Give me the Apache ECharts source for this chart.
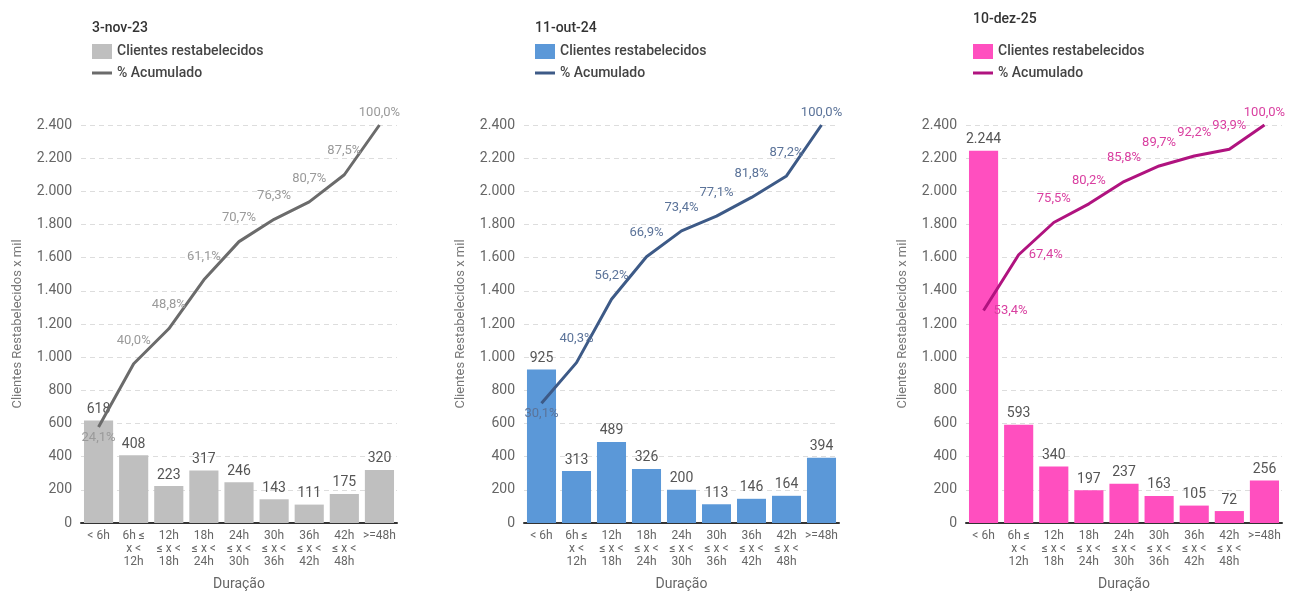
<!DOCTYPE html>
<html><head><meta charset="utf-8">
<script src="https://cdn.jsdelivr.net/npm/echarts@6/dist/echarts.min.js"></script>
<style>
html,body{margin:0;padding:0;background:#fff;}
#wrap{position:relative;width:1293px;height:593px;}
.p{position:absolute;top:0;height:593px;}
</style></head>
<body><div id="wrap">
<div id="c1" class="p" style="left:0;width:431px"></div>
<div id="c2" class="p" style="left:431px;width:431px"></div>
<div id="c3" class="p" style="left:862px;width:431px"></div>
</div>
<script>
const categories = ['< 6h','6h ≤\nx <\n12h','12h\n≤ x <\n18h','18h\n≤ x <\n24h','24h\n≤ x <\n30h','30h\n≤ x <\n36h','36h\n≤ x <\n42h','42h\n≤ x <\n48h','>=48h'];
const yTicks = [0,200,400,600,800,1000,1200,1400,1600,1800,2000,2200,2400];

const titles = ['3-nov-23','11-out-24','10-dez-25'];

const bars2023 = [618,408,223,317,246,143,111,175,320];
const pct2023  = [24.1,40.0,48.8,61.1,70.7,76.3,80.7,87.5,100.0];

const bars2024 = [925,313,489,326,200,113,146,164,394];
const pct2024  = [30.1,40.3,56.2,66.9,73.4,77.1,81.8,87.2,100.0];

const bars2025 = [2244,593,340,197,237,163,105,72,256];
const pct2025  = [53.4,67.4,75.5,80.2,85.8,89.7,92.2,93.9,100.0];

const FONT = 'Roboto, "Noto Sans", sans-serif';
const fmtThousands = v => String(v).replace(/\B(?=(\d{3})+(?!\d))/g,'.');
const fmtPct = v => v.toFixed(1).replace('.',',') + '%';

const panels = [
  {el:'c1', title:titles[0], bars:bars2023, pct:pct2023, barColor:'#BFBFBF', lineColor:'#6B6B6B', pctColor:'#9A9A9A',
   gridLeft:81, gridRight:34, titleLeft:87, titleTop:16, labelPos:['bottom','top','top','top','top','top','top','top','top']},
  {el:'c2', title:titles[1], bars:bars2024, pct:pct2024, barColor:'#5B98D8', lineColor:'#3D5A87', pctColor:'#5B7399',
   gridLeft:93, gridRight:23, titleLeft:99, titleTop:16, labelPos:['bottom','top','top','top','top','top','top','top','top']},
  {el:'c3', title:titles[2], bars:bars2025, pct:pct2025, barColor:'#FF4FBF', lineColor:'#B0137F', pctColor:'#D93FA0',
   gridLeft:104, gridRight:11, titleLeft:106, titleTop:7, labelPos:['right','right','top','top','top','top','top','top','top']}
];

panels.forEach(p => {
  const chart = echarts.init(document.getElementById(p.el), null, {renderer:'canvas'});
  const lineData = p.pct.map((v,i) => {
    const pos = p.labelPos[i];
    const last = i === p.pct.length - 1;
    return {value:v, label:{position:pos, distance: pos==='top'?(last?6:17):(pos==='right'?10:4), offset: pos==='top'?[-5,0]:[0,0]}};
  });
  chart.setOption({
    animation:false,
    textStyle:{fontFamily:FONT},
    title:{text:p.title, left:p.titleLeft, top:p.titleTop, textStyle:{fontFamily:FONT, fontSize:14, fontWeight:500, color:'#333'}},
    legend:{
      orient:'vertical', left:p.titleLeft, top:39, itemGap:7, itemWidth:20, itemHeight:15,
      textStyle:{fontFamily:FONT, fontSize:14, color:'#444', fontWeight:500},
      data:[
        {name:'Clientes restabelecidos', icon:'rect'},
        {name:'% Acumulado', icon:'path://M0,0h20v3h-20z'}
      ],
      selectedMode:false
    },
    grid:{left:p.gridLeft, right:p.gridRight, top:125, bottom:70, containLabel:false, outerBoundsMode:'none'},
    xAxis:{
      type:'category', data:categories,
      axisLine:{lineStyle:{color:'#333', width:2}},
      axisTick:{show:false},
      axisLabel:{interval:0, fontSize:12, color:'#666', lineHeight:13, margin:6, fontFamily:FONT},
      name:'Duração', nameLocation:'middle', nameGap:54,
      nameTextStyle:{fontSize:14, color:'#666', fontFamily:FONT}
    },
    yAxis:[{
      type:'value', min:0, max:2400, interval:200,
      axisLine:{show:false}, axisTick:{show:false},
      axisLabel:{fontSize:14, color:'#666', margin:9, formatter:fmtThousands, fontFamily:FONT},
      splitLine:{lineStyle:{color:'#DDDDDD', type:[5,4], width:1}},
      name:'Clientes Restabelecidos x mil', nameLocation:'middle', nameGap:57, nameRotate:90,
      nameTextStyle:{fontSize:13, color:'#777', fontFamily:FONT}
    },{
      type:'value', min:0, max:100, show:false
    }],
    series:[{
      name:'Clientes restabelecidos', type:'bar', data:p.bars, barCategoryGap:'17%',
      itemStyle:{color:p.barColor},
      label:{show:true, position:'top', fontSize:14, color:'#555', distance:4, formatter:o=>fmtThousands(o.value), fontFamily:FONT}
    },{
      name:'% Acumulado', type:'line', yAxisIndex:1, data:lineData, symbol:'circle', symbolSize:0.1, showSymbol:true,
      lineStyle:{color:p.lineColor, width:3}, itemStyle:{color:p.lineColor},
      label:{show:true, fontSize:13, color:p.pctColor, formatter:o=>fmtPct(o.value), fontFamily:FONT},
      labelLayout:{hideOverlap:false},
      z:3
    }]
  });
});
</script>
</body></html>
